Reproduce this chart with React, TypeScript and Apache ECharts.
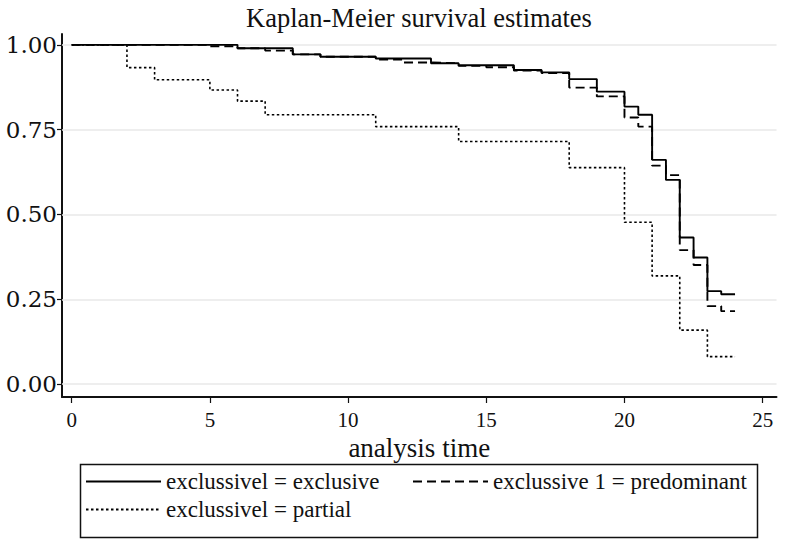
import React, { useEffect, useRef } from "react";
import * as echarts from "echarts";

const titleText = "Kaplan-Meier survival estimates";
const xAxisName = "analysis time";
const xTicks = [0, 5, 10, 15, 20, 25];
const yTicks = [0, 0.25, 0.5, 0.75, 1];

const seriesNames = [
  "exclussivel = exclusive",
  "exclussive 1 = predominant",
  "exclussivel = partial",
];

// exclusive (solid)
const exclusiveTimes = [0, 6, 8, 9, 11, 13, 14, 16, 17, 18, 19, 20, 20.5, 21, 21.5, 22, 22.5, 23, 23.5, 24];
const exclusiveSurv = [1, 0.99, 0.972, 0.965, 0.96, 0.946, 0.94, 0.926, 0.919, 0.899, 0.862, 0.818, 0.794, 0.661, 0.602, 0.432, 0.373, 0.274, 0.265, 0.265];

// predominant (dashed)
const predominantTimes = [0, 5, 6, 7, 8, 9, 11, 12, 13, 14, 15, 16, 17, 18, 19, 20, 20.5, 21, 21.5, 22, 22.5, 23, 23.5, 24];
const predominantSurv = [1, 0.996, 0.99, 0.983, 0.972, 0.965, 0.957, 0.948, 0.946, 0.938, 0.934, 0.924, 0.917, 0.874, 0.848, 0.786, 0.759, 0.644, 0.616, 0.395, 0.351, 0.23, 0.215, 0.215];

// partial (dotted)
const partialTimes = [0, 2, 3, 5, 6, 7, 11, 14, 18, 20, 21, 22, 23, 24];
const partialSurv = [1, 0.933, 0.897, 0.867, 0.834, 0.794, 0.759, 0.715, 0.638, 0.477, 0.319, 0.159, 0.081, 0.081];

const zip = (t: number[], s: number[]) => t.map((v, i) => [v, s[i]]);

const SERIF = "Liberation Serif";

export default function App() {
  const ref = useRef<HTMLDivElement>(null);
  useEffect(() => {
    if (!ref.current) return;
    const chart = echarts.init(ref.current, undefined, { renderer: "svg" });
    const lineBase = (name: string, data: number[][], type: any, width: number) => ({
      name,
      type: "line",
      step: "end",
      symbol: "none",
      z: 3,
      data,
      lineStyle: { color: "#000", width, type },
      itemStyle: { color: "#000" },
    });
    const legendCommon = {
      orient: "vertical",
      top: 470,
      itemWidth: 75,
      itemHeight: 14,
      itemGap: 5,
      padding: 0,
      itemStyle: { color: "rgba(0,0,0,0)", borderColor: "rgba(0,0,0,0)", borderWidth: 0 },
      textStyle: { fontFamily: SERIF, fontSize: 23, color: "#111" },
    };
    chart.setOption({
      animation: false,
      backgroundColor: "#fff",
      title: {
        text: titleText,
        left: 241,
        top: -1,
        textStyle: { fontFamily: SERIF, fontSize: 26.5, fontWeight: "normal", color: "#111" },
      },
      grid: { left: 62, top: 34, width: 714.5, height: 363, containLabel: false },
      xAxis: {
        type: "value",
        min: -0.35,
        max: 25.5,
        name: xAxisName,
        nameLocation: "middle",
        nameGap: 20,
        nameTextStyle: { fontFamily: SERIF, fontSize: 27, color: "#111" },
        axisLine: { show: true, onZero: false, lineStyle: { color: "#111", width: 2 } },
        axisTick: { show: true, customValues: xTicks, length: 6, lineStyle: { color: "#111", width: 1.2 } },
        axisLabel: { customValues: xTicks, fontFamily: SERIF, fontSize: 21, color: "#111", margin: 12 },
        splitLine: { show: false },
      },
      yAxis: {
        type: "value",
        min: -0.038,
        max: 1.032,
        axisLine: { show: true, onZero: false, lineStyle: { color: "#111", width: 2 } },
        axisTick: { show: true, customValues: yTicks, length: 5, lineStyle: { color: "#111", width: 1.2 } },
        axisLabel: {
          customValues: yTicks,
          fontFamily: "DejaVu Serif",
          fontSize: 23,
          color: "#111",
          margin: 5,
          formatter: (v: number) => v.toFixed(2),
        },
        splitLine: { show: false },
      },
      legend: [
        { ...legendCommon, left: 85, data: [seriesNames[0], seriesNames[2]] },
        { ...legendCommon, left: 412, data: [seriesNames[1]] },
      ],
      graphic: [
        {
          type: "rect",
          left: 78,
          top: 462,
          shape: { width: 677, height: 73 },
          style: { fill: "none", stroke: "#111", lineWidth: 1.5 },
          silent: true,
        },
      ],
      series: [
        {
          name: "grid",
          type: "line",
          data: [],
          z: 1,
          silent: true,
          markLine: {
            silent: true,
            z: 1,
            symbol: "none",
            label: { show: false },
            lineStyle: { color: "#e8e8e8", width: 1.5, type: "solid" },
            data: yTicks.map((v) => ({ yAxis: v })),
          },
        },
        lineBase(seriesNames[0], zip(exclusiveTimes, exclusiveSurv), "solid", 1.9),
        lineBase(seriesNames[1], zip(predominantTimes, predominantSurv), [9, 5], 1.9),
        lineBase(seriesNames[2], zip(partialTimes, partialSurv), [2.5, 2.5], 1.6),
      ],
    });
    return () => chart.dispose();
  }, []);
  return <div ref={ref} style={{ position: "fixed", left: 0, top: 0, width: 787, height: 560 }} />;
}
